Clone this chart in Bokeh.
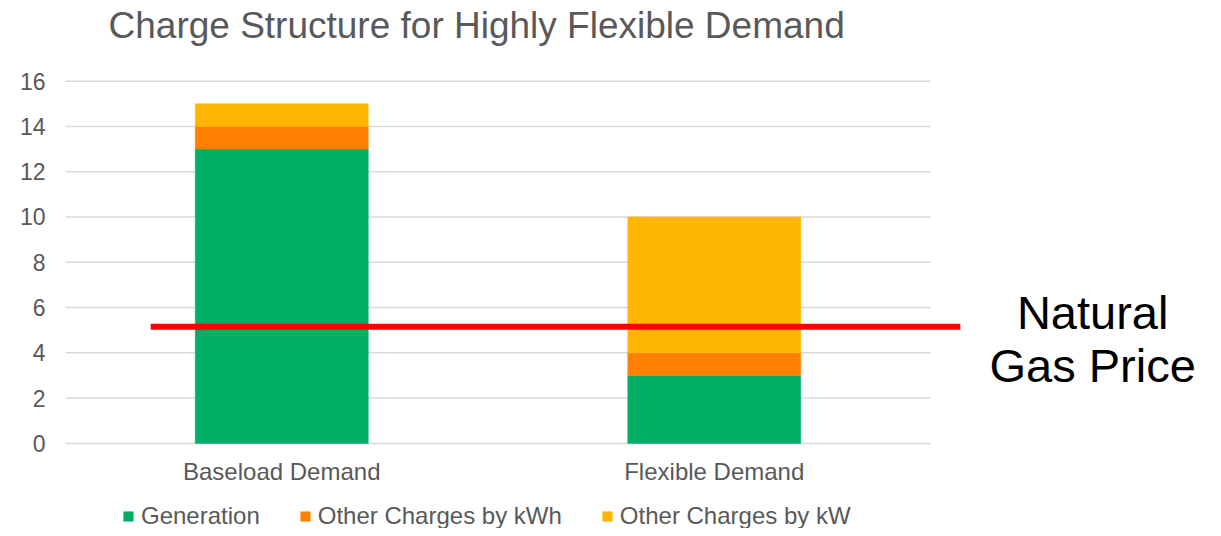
from bokeh.plotting import figure
from bokeh.models import Range1d, FixedTicker, Legend, LegendItem, ColumnDataSource, Title
from bokeh.core.properties import value
from bokeh.embed import file_html
from bokeh.resources import INLINE

# ---- data ----
categories = ["Baseload Demand", "Flexible Demand"]
generation = [13, 3]
charges_kwh = [1, 1]
charges_kw = [1, 6]
series_keys = ["generation", "charges_kwh", "charges_kw"]
series_names = ["Generation", "Other Charges by kWh", "Other Charges by kW"]
y_ticks = [0, 2, 4, 6, 8, 10, 12, 14, 16]
gas_price = 5.15
gas_label = "Natural\nGas Price"
title_text = "Charge Structure for Highly Flexible Demand"

# ---- style ----
colors = ["#00AF64", "#FF8000", "#FFB600"]
FONT = "Liberation Sans"
GRAY = "#595959"

x_pos = [i + 0.5 for i in range(len(categories))]
source = ColumnDataSource(dict(x=x_pos, generation=generation,
                               charges_kwh=charges_kwh, charges_kw=charges_kw))

W, H = 1213, 528
top, left = 70, 65
px_per_unit = 22.64
y_end = 16.47
y_start = y_end - (H - top) / px_per_unit
x_end = (W - left) / 432.5

p = figure(width=W, height=H, output_backend="svg", toolbar_location=None,
           x_range=Range1d(0, x_end), y_range=Range1d(y_start, y_end),
           min_border_left=left, min_border_right=0, min_border_top=top, min_border_bottom=0)
p.outline_line_color = None
p.background_fill_color = "white"
p.border_fill_color = "white"
p.xgrid.visible = False
p.ygrid.visible = False

# spacer panel between frame and title, then the title itself
spacer = Title(text=" ", text_font_size="1px", standoff=22)
p.add_layout(spacer, "above")
t = Title(text=title_text, align="left", offset=43, text_font_size="37px",
          text_color=GRAY, text_font_style="normal", text_font=FONT,
          vertical_align="bottom", standoff=0)
p.add_layout(t, "above")

# gridlines spanning the category area only
n = len(categories)
p.segment(x0=[0] * len(y_ticks), x1=[n] * len(y_ticks), y0=y_ticks, y1=y_ticks,
          line_color="#D9D9D9", line_width=1.5, level="underlay")

renderers = p.vbar_stack(series_keys, x="x", width=0.4, source=source,
                         fill_color=colors, line_color=colors, line_width=0.5)

p.segment(x0=[0.197], x1=[2.069], y0=[gas_price], y1=[gas_price],
          line_color="#FF0000", line_width=6)

p.text(x=[2.375], y=[4.6], text=[gas_label], text_font=value(FONT),
       text_font_size="47px", text_align="center", text_baseline="middle",
       text_line_height=1.0, text_color="black")

# axes
p.yaxis.ticker = FixedTicker(ticks=y_ticks)
p.yaxis.axis_line_color = None
p.yaxis.major_tick_line_color = None
p.yaxis.minor_tick_line_color = None
p.yaxis.major_tick_out = 0
p.yaxis.major_tick_in = 0
p.yaxis.major_label_standoff = 20
p.yaxis.major_label_text_font_size = "23px"
p.yaxis.major_label_text_color = GRAY
p.yaxis.major_label_text_font = FONT

p.xaxis.fixed_location = 0
p.xaxis.ticker = FixedTicker(ticks=x_pos)
p.xaxis.major_label_overrides = {x: c for x, c in zip(x_pos, categories)}
p.xaxis.axis_line_color = None
p.xaxis.major_tick_line_color = None
p.xaxis.minor_tick_line_color = None
p.xaxis.major_tick_out = 0
p.xaxis.major_tick_in = 0
p.xaxis.major_label_standoff = 15
p.xaxis.major_label_text_font_size = "24px"
p.xaxis.major_label_text_color = GRAY
p.xaxis.major_label_text_font = FONT

legend = Legend(items=[LegendItem(label=nm, renderers=[r]) for nm, r in zip(series_names, renderers)],
                orientation="horizontal", location=(57, -2),
                glyph_width=12, glyph_height=12, label_standoff=7, spacing=39,
                padding=0, margin=0, border_line_color=None, background_fill_alpha=0,
                label_text_font_size="24px", label_text_color=GRAY, label_text_font=FONT)
p.add_layout(legend)

open("out.html", "w").write(file_html(p, INLINE))
